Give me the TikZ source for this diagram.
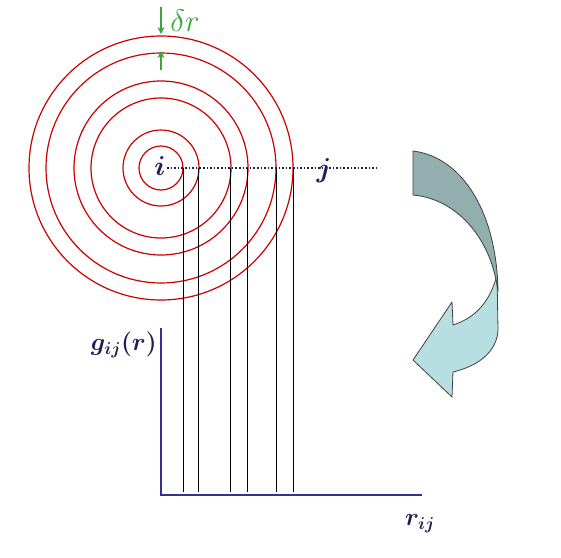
\documentclass[tikz,border=0pt]{standalone}
\usepackage{bm}
\usetikzlibrary{arrows.meta}
\definecolor{axisblue}{RGB}{50,50,150}
\definecolor{navyc}{RGB}{30,30,90}
\definecolor{grn}{RGB}{60,165,60}
\definecolor{darkteal}{RGB}{146,174,174}
\definecolor{lightteal}{RGB}{183,223,226}
\tikzset{
  ring/.style={draw=red!80!black, line width=1.2pt},
  drop/.style={draw=black, line width=1pt},
  axisline/.style={draw=axisblue, line width=2.8pt},
  greenarrow/.style={draw=grn, line width=1.8pt, -{Stealth[length=7pt,width=7pt]}},
  lbl/.style={inner sep=0pt, text=navyc, font=\fontsize{24}{24}\selectfont},
  ribbon/.style={draw=black!75, line width=0.8pt, line join=round}
}
\begin{document}
\begin{tikzpicture}[x=1pt,y=-1pt]
\useasboundingbox (0,0) rectangle (561,557);
\fill[white] (0,0) rectangle (561,557);
% centre
\coordinate (c) at (161,168);
\foreach \rad in {22,38,70,87,115,132}{
  \draw[ring] (c) circle[radius=\rad];
}
% dotted line
\node[lbl, scale=1.1] (ni) at (160,166) {$\bm{i}$};
\node[lbl, scale=1.1] (nj) at (324,171) {$\bm{j}$};
\coordinate (dl) at (167,168);
\coordinate (dr) at (377,168);
\draw[navyc, line width=1.6pt, dotted] (dl) -- (dr);
% drop lines
\foreach \rad [count=\k] in {22,37,69,86,115,132}{
  \coordinate (t\k) at (161+\rad,168);
  \coordinate (b\k) at (161+\rad,492);
  \draw[drop] (t\k) -- (b\k);
}
% axes
\coordinate (o) at (161,495);
\coordinate (ytop) at (161,328);
\coordinate (xend) at (422,495);
\draw[axisline] (ytop) -- (o) -- (xend);
\node[lbl, anchor=east] (g) at (157,345) {$\bm{g_{ij}(r)}$};
\node[lbl] (rij) at (420,524) {$\bm{r_{ij}}$};
% delta r
\coordinate (a1s) at (161,7);
\coordinate (a1e) at (161,34);
\coordinate (a2s) at (161,70);
\coordinate (a2e) at (161,51);
\draw[greenarrow] (a1s) -- (a1e);
\draw[greenarrow] (a2s) -- (a2e);
\node[inner sep=0pt, text=grn, font=\fontsize{24}{24}\selectfont, scale=1.25] (deltar) at (185,21) {$\delta r$};
% curved arrow
\path[ribbon, fill=lightteal]
  (497,275) -- (498,330)
  .. controls (497,352) and (478,366) .. (453,372)
  -- (452,397) -- (413,360) -- (452,302) -- (453,325)
  .. controls (475,318) and (490,302) .. (497,275) -- cycle;
\path[ribbon, fill=darkteal]
  (413,151) .. controls (462,157) and (497,212) .. (498,292)
  .. controls (492,240) and (458,199) .. (413,195) -- cycle;
\end{tikzpicture}
\end{document}
